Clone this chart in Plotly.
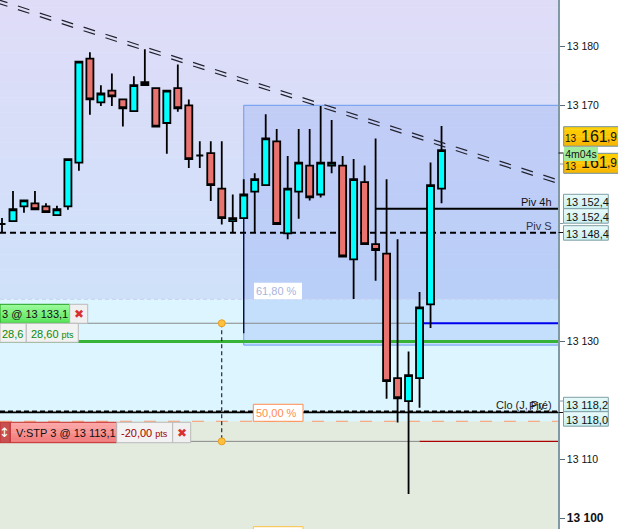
import plotly.graph_objects as go

# ---------- data ----------
idx = list(range(41))
opens = [13149.9,13150.4,13152.9,13153.4,13152.9,13151.4,13152.9,13160.3,13177.9,13170.5,13172.5,
         13171.0,13169.0,13173.9,13172.9,13167.0,13172.9,13170.0,13161.5,13161.9,13155.9,13150.4,
         13150.9,13155.4,13156.5,13163.9,13148.3,13155.4,13159.8,13154.9,13159.8,13159.8,13143.9,
         13157.0,13146.5,13144.9,13123.8,13119.9,13123.8,13136.3,13155.9]
highs = [13150.9,13155.5,13153.9,13155.5,13153.4,13153.0,13160.9,13177.4,13179.0,13173.4,13175.4,
         13171.0,13174.9,13179.5,13172.9,13172.5,13176.9,13171.0,13163.9,13163.9,13163.9,13154.9,
         13157.5,13158.5,13168.5,13166.0,13161.4,13166.0,13166.0,13169.9,13167.5,13161.4,13160.9,
         13159.8,13164.4,13157.5,13147.3,13128.3,13138.4,13160.3,13166.5]
lows = [13148.4,13150.4,13151.8,13152.4,13151.9,13151.4,13152.3,13158.9,13168.4,13169.9,13169.9,
        13166.4,13169.0,13173.4,13166.4,13161.8,13168.9,13159.4,13159.4,13153.8,13149.8,13148.4,
        13150.9,13148.4,13156.5,13149.9,13147.3,13150.8,13153.9,13154.4,13158.5,13144.4,13137.2,
        13146.5,13140.3,13120.3,13116.3,13104.2,13118.8,13132.3,13153.4]
closes = [13149.9,13152.4,13153.9,13152.4,13151.9,13152.4,13160.9,13177.4,13171.0,13172.0,13171.5,
          13169.5,13173.4,13173.4,13166.4,13172.5,13169.5,13160.9,13161.5,13156.5,13150.9,13150.9,
          13154.9,13157.5,13164.4,13149.9,13155.9,13160.3,13154.4,13160.3,13160.3,13144.4,13157.5,
          13146.5,13145.5,13123.3,13120.4,13124.3,13135.8,13156.5,13162.4]
long_wick_x = [22, 22]
long_wick_y = [13150.9, 13131.4]
order_link_x = [20, 20]
order_link_y = [13133.1, 13113.1]

tick_show = [13180, 13170, 13130, 13110, 13100]
tick_text = ["13 180", "13 170", "13 130", "13 110", "<b style='font-size:12px'>13 100</b>"]

trend_x = [-0.545, 50.55]
trend_upper = [13188.0, 13157.4]
trend_lower = [13187.4, 13156.8]
piv_s = 13148.4
piv_4h = 13152.5
clo_a = 13118.2
clo_b = 13118.0
green_level = 13130.0
entry_level = 13133.1
stop_level = 13113.1
fib_618 = 13137.15
fib_500 = 13116.5
box_top = 13170.0
box_bottom = 13129.4
ymin, ymax = 13098.26, 13187.83
xmin, xmax = -0.1818, 50.6

FONT = "Liberation Sans"
W, H = 618, 529
PW = 558


def px(x):
    return x / PW


def py(y):
    return 1 - y / H


shapes = []
annots = []


def hex_rgb(h):
    return tuple(int(h[i:i + 2], 16) for i in (1, 3, 5))


def mix(a, b, t):
    a, b = hex_rgb(a), hex_rgb(b)
    return "rgb(%d,%d,%d)" % tuple(round(p + (q - p) * t) for p, q in zip(a, b))


def band(y0, y1, color):
    shapes.append(dict(type="rect", layer="below", xref="x", yref="y", x0=xmin, x1=xmax, y0=y0, y1=y1,
                       fillcolor=color, line_width=0))


def hline(y, x0=xmin, x1=xmax, color="black", width=1, dash="solid"):
    shapes.append(dict(type="line", layer="below", xref="x", yref="y", x0=x0, x1=x1, y0=y, y1=y,
                       line=dict(color=color, width=width, dash=dash)))


def box(x0, y0, x1, y1, fill, line=None, lw=1, layer="above"):
    shapes.append(dict(type="rect", layer=layer, xref="paper", yref="paper",
                       x0=px(x0), x1=px(x1), y0=py(y1), y1=py(y0), fillcolor=fill,
                       line=dict(color=line or fill, width=lw if line else 0)))


def gbox(x0, y0, x1, y1, top, bottom, line, layer="above", n=8):
    for k in range(n):
        a = y0 + (y1 - y0) * k / n
        b = y0 + (y1 - y0) * (k + 1) / n + (0.3 if k < n - 1 else 0)
        box(x0, a, x1, b, mix(top, bottom, k / (n - 1)), layer=layer)
    box(x0, y0, x1, y1, "rgba(0,0,0,0)", line, layer=layer)


def label(x, y, text, size=11, color="#111111", anchor="left", family=FONT):
    annots.append(dict(xref="paper", yref="paper", x=px(x), y=py(y), text=text, showarrow=False,
                       xanchor=anchor, yanchor="middle", borderpad=0, borderwidth=0,
                       font=dict(family=family, size=size, color=color)))


# background gradient (top zone) and flat zones
N = 40
for k in range(N):
    a0 = ymax - (ymax - fib_618) * k / N
    a1 = ymax - (ymax - fib_618) * (k + 1) / N - 0.05
    band(max(a1, fib_618), a0, mix("#dfdcf8", "#cfe1f9", k / (N - 1)))
band(fib_500, fib_618, "#dcf5ff")
band(ymin, fib_500, "#e3ebdf")

# fibonacci rectangle
shapes.append(dict(type="rect", layer="below", xref="x", yref="y", x0=22.0, x1=xmax + 1,
                   y0=box_bottom, y1=box_top, fillcolor="rgba(90,130,240,0.18)",
                   line=dict(color="#6a9bf0", width=1)))

# levels
hline(fib_618, color="#c8d0f0", width=1, dash="4px,3px")
hline(fib_500, color="#ff9966", width=1, dash="12px,12px")
hline(piv_s, color="black", width=2, dash="6px,4px")
hline(piv_4h, x0=34, color="black", width=2)
hline(entry_level, x1=38, color="#888888", width=1)
hline(entry_level, x0=38, color="#0000ee", width=2)
hline(stop_level, x1=38, color="#888888", width=1)
hline(stop_level, x0=38, color="#aa0000", width=1.3)
hline(green_level, color="#36b236", width=3)
hline(clo_b, color="black", width=1.6)
hline(clo_a, color="black", width=1.4, dash="5px,3px")

# double dashed trendline
for series in (trend_upper, trend_lower):
    shapes.append(dict(type="line", layer="above", xref="x", yref="y", x0=trend_x[0], x1=trend_x[1],
                       y0=series[0], y1=series[1], line=dict(color="#22222e", width=1.2, dash="12px,11px")))

# order widgets
gbox(0, 304.3, 69.7, 323.3, "#98fa98", "#58e458", "#20a020")
label(1.5, 314, "3 @ 13 133,1", 11, "#111111")
box(69.7, 304.3, 87.7, 323.3, "#f0f0f0", "#bbbbbb")
label(78.7, 314, "✖", 12, "#d83030", "center", "DejaVu Sans")
box(0, 323.3, 26.3, 342.3, "#f2f2f2", "#bbbbbb")
label(2, 333.5, "28,6", 11, "#0a8a0a")
box(26.3, 323.3, 78.3, 342.3, "#f2f2f2", "#bbbbbb")
label(31, 333.5, "28,60 <span style='font-size:9px'>pts</span>", 11, "#0a8a0a")

box(0, 422.3, 10.3, 442.7, "#c85050", "#c03030")
label(4, 432.5, "↕", 13, "#ffffff", "center", "DejaVu Sans")
gbox(10.3, 422.3, 116.7, 442.7, "#fca8a8", "#f27a7a", "#c03030")
label(15.5, 432.5, "V:STP 3 @ 13 113,1", 11, "#111111")
box(116.7, 422.3, 172.7, 442.7, "#f2f2f2", "#bbbbbb")
label(121, 432.5, "-20,00 <span style='font-size:9px'>pts</span>", 11, "#a00000")
box(172.7, 422.3, 190.7, 442.7, "#f0f0f0", "#bbbbbb")
label(181.7, 432.5, "✖", 12, "#d83030", "center", "DejaVu Sans")

# percentage tags
box(254, 282.7, 302, 299.3, "#ffffff")
label(256, 291, "61,80 %", 11, "#a8b4e0")
box(253.3, 404.3, 303, 421.3, "#ffffff", "#ff8c50")
label(256, 413, "50,00 %", 11, "#ff8c50")
box(253.3, 526.7, 303, 535, "#ffffff", "#ffc040")

# level names
label(552, 202, "Piv 4h", 11, "#111111", "right")
label(552, 226, "Piv S", 11, "#333344", "right")
label(552, 404.5, "Clo (J, Pré)", 11, "#222222", "right")
label(545, 406, "Piv", 11, "#222222", "right")

# small marks on the axis
for y, c in ((153, "#111111"), (164, "#8a9aa5"), (223.5, "#8a9aa5"), (232.5, "#111111"), (401, "#8a9aa5"), (412.5, "#111111")):
    shapes.append(dict(type="line", layer="above", xref="paper", yref="paper", x0=px(558.5), x1=px(563.5),
                       y0=py(y), y1=py(y), line=dict(color=c, width=1)))

# price tags on the right
gbox(563.7, 126.7, 620, 146.2, "#ffd000", "#f8b800", "#6f8f9f")
label(565, 138.3, "13", 10, "#111111")
label(581, 136.5, "161", 16, "#111111")
label(607, 136.5, ",9", 12, "#111111")
gbox(563.7, 153.3, 620, 173.3, "#ffd000", "#f8b800", "#6f8f9f")
label(565, 166, "13", 10, "#111111")
label(581, 162.7, "161", 16, "#111111")
label(607, 162.7, ",9", 12, "#111111")
# countdown tag: an annotation with its own background, so it covers the tag text underneath
annots.append(dict(xref="paper", yref="paper", x=px(564), y=py(146.7), text="4m04s", showarrow=False,
                   xanchor="left", yanchor="top", width=34, height=14.3, align="center", valign="middle",
                   bgcolor="#a0ec9c", borderpad=0, borderwidth=0,
                   font=dict(family=FONT, size=10.5, color="#111111")))
for top, txt in ((194.3, "13 152,4"), (208.7, "13 152,4"), (225.7, "13 148,4"),
                 (397.3, "13 118,2"), (411.7, "13 118,0")):
    gbox(563.5, top, 608.3, top + 14.5, "#e6fafa", "#c8efef", "#7f9fa5")
    label(566, top + 7.8, txt, 11, "#111111")

fig = go.Figure()
fig.add_trace(go.Candlestick(
    x=idx, open=opens, high=highs, low=lows, close=closes, whiskerwidth=0,
    increasing=dict(fillcolor="#00ffff", line=dict(color="black", width=1.8)),
    decreasing=dict(fillcolor="#e9736e", line=dict(color="black", width=1.8)),
    hoverinfo="skip", showlegend=False))
fig.add_trace(go.Scatter(x=long_wick_x, y=long_wick_y, mode="lines",
                         line=dict(color="#00002a", width=1.3), showlegend=False, hoverinfo="skip"))
fig.add_trace(go.Scatter(x=order_link_x, y=order_link_y, mode="lines+markers",
                         line=dict(color="black", width=1, dash="4px,3px"),
                         marker=dict(size=7, color="#ffc040", line=dict(color="#e8a020", width=1)),
                         showlegend=False, hoverinfo="skip"))

fig.update_layout(
    width=W, height=H, margin=dict(l=0, r=W - PW, t=0, b=0, pad=0),
    paper_bgcolor="white", plot_bgcolor="#dcf5ff", showlegend=False, boxgap=0.36, boxgroupgap=0,
    shapes=shapes, annotations=annots,
    xaxis=dict(range=[xmin, xmax], visible=False, rangeslider=dict(visible=False), fixedrange=True),
    yaxis=dict(range=[ymin, ymax], side="right", showgrid=False, zeroline=False, showline=True,
               linecolor="#7f9aa5", linewidth=1.5, ticks="outside", ticklen=5, tickwidth=1,
               tickcolor="#5a6a75", tickvals=tick_show, ticktext=tick_text,
               tickfont=dict(family=FONT, size=10.5, color="#111111"), fixedrange=True),
)
fig.write_html("out.html", post_script="document.body.style.margin='0';",
               config=dict(displayModeBar=False))
